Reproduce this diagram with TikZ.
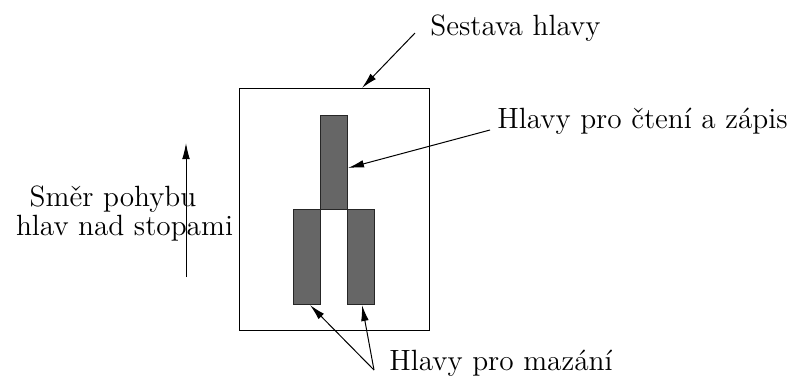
\documentclass[tikz,border=0pt]{standalone}
\usetikzlibrary{arrows.meta}
\begin{document}
\begin{tikzpicture}[x=0.5pt,y=-0.5pt,
  lbl/.style={font=\fontsize{14.65}{13}\selectfont, inner sep=0pt},
  head/.style={draw=black!85, fill=black!60, line width=0.5pt, inner sep=0pt, anchor=north west},
  pointer/.style={-{Latex[length=8pt,width=3.8pt]}, line width=0.5pt}
]
\useasboundingbox (0,0) rectangle (793,376);
% outer assembly
\node[draw=black, line width=0.5pt, inner sep=0pt, anchor=north west,
      minimum width=95pt, minimum height=121pt] (outer) at (238.5,88) {};
% heads
\node[head, minimum width=13.5pt, minimum height=47pt] (rw) at (320,115) {};
\node[head, minimum width=13.5pt, minimum height=47.5pt] (erl) at (293,209) {};
\node[head, minimum width=13.5pt, minimum height=47.5pt] (err) at (347,209) {};
% labels
\node[lbl, anchor=base west] (sest) at (430,35) {Sestava hlavy};
\node[lbl, anchor=base west] (ctz) at (497,128) {Hlavy pro čtení a zápis};
\node[lbl, anchor=base west] (maz) at (389,370) {Hlavy pro mazání};
\node[lbl, align=center, anchor=base] (smer) at (124.5,235) {Směr pohybu\hspace*{11.5pt}\\hlav nad stopami};
% connector free ends
\coordinate (s0) at (415,33);
\coordinate (c0) at (490,130);
\coordinate (m0) at (374,370);
\coordinate (d0) at (186,277);
\coordinate (d1) at (186,143);
% connectors
\draw[pointer] (s0) -- (outer.north west -| 362,0);
\draw[pointer] (c0) -- (rw.east |- 0,168);
\draw[pointer] (m0) -- (erl.south -| 310,0);
\draw[pointer] (m0) -- (err.south -| 362,0);
\draw[pointer] (d0) -- (d1);
\end{tikzpicture}
\end{document}
